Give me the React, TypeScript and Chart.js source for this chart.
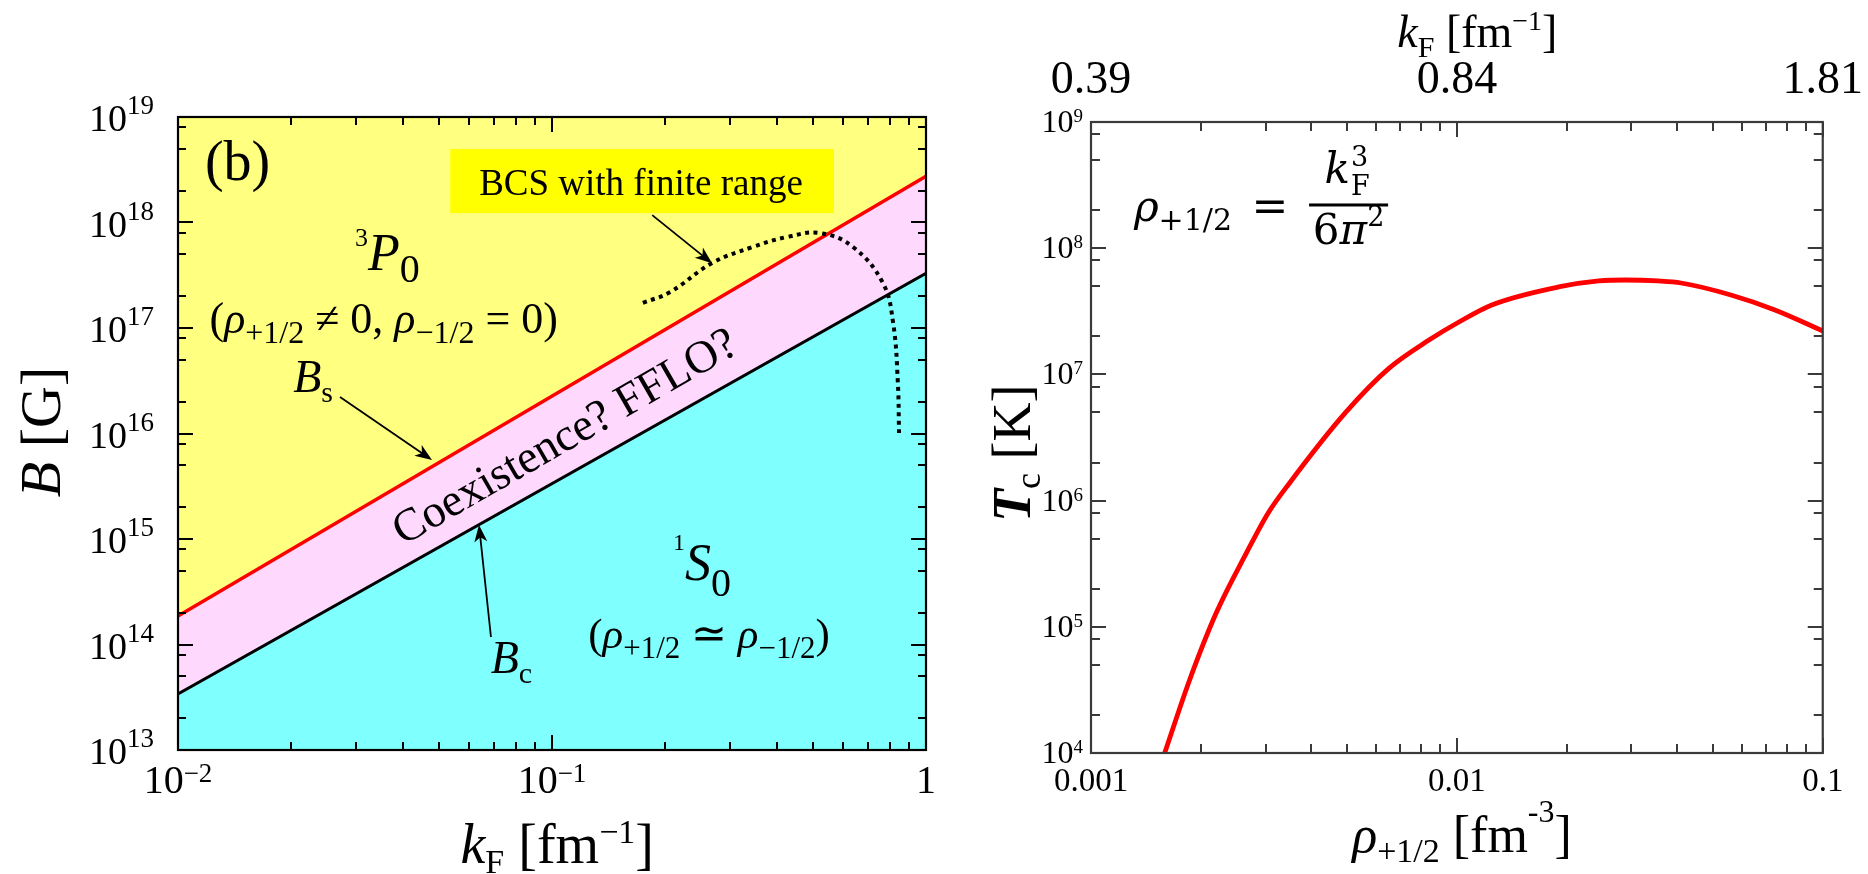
import React, { useEffect, useRef } from "react";
import { Chart, registerables } from "chart.js";

Chart.register(...registerables);

const FONT = '"Liberation Serif", "Times New Roman", serif';
const MATH = '"DejaVu Serif", serif';

// ---------------- Left panel (b): B [G] vs kF [fm^-1] ----------------
const kFEdges = [0.01, 1];
const BsValues = [1.86e14, 2.75e18];
const BcValues = [3.4e13, 3.3e17];
const bcsKF = [0.175, 0.207, 0.268, 0.344, 0.425, 0.521, 0.638, 0.767, 0.817, 0.841, 0.847];
const bcsB = [1.73e17, 2.19e17, 4.13e17, 5.86e17, 7.29e17, 7.94e17, 5.86e17, 2.67e17, 1.11e17, 3.01e16, 1.01e16];

const leftXTickValues = [0.01, 0.1, 1];
const leftXTickBase = ["10", "10", "1"];
const leftXTickExp = ["\u22122", "\u22121", ""];
const leftYTickValues = [1e13, 1e14, 1e15, 1e16, 1e17, 1e18, 1e19];
const leftYTickExp = ["13", "14", "15", "16", "17", "18", "19"];
const leftXMinor = [2, 3, 4, 5, 6, 7, 8, 9];
const leftYMinor = [2, 5, 8];

// ---------------- Right panel: Tc [K] vs rho_{+1/2} [fm^-3] ----------------
const rhoValues = [0.00159, 0.00186, 0.0022, 0.00266, 0.00305, 0.00349, 0.00498, 0.00653, 0.00839, 0.01013, 0.01246, 0.01897, 0.0244, 0.0289, 0.0355, 0.041, 0.0561, 0.074, 0.1];
const TcValues = [1e4, 3.79e4, 1.29e5, 3.85e5, 7.98e5, 1.38e6, 5.04e6, 1.12e7, 1.87e7, 2.6e7, 3.55e7, 4.93e7, 5.5e7, 5.6e7, 5.5e7, 5.3e7, 4.26e7, 3.24e7, 2.21e7];

const rightXTickValues = [0.001, 0.01, 0.1];
const rightXTickLabels = ["0.001", "0.01", "0.1"];
const topKFTickLabels = ["0.39", "0.84", "1.81"];
const rightYTickValues = [1e4, 1e5, 1e6, 1e7, 1e8, 1e9];
const rightYTickExp = ["4", "5", "6", "7", "8", "9"];
const rightXMinor = [2, 3, 4, 5, 6, 7, 8, 9];
const rightYMinor = [2, 5, 8];

const YELLOW = "rgb(255,255,128)";
const PINK = "rgb(255,217,253)";
const CYAN = "rgb(128,255,255)";

type Seg = { t: string; size: number; italic?: boolean; bold?: boolean; dy?: number; fam?: string };

function setFont(ctx: CanvasRenderingContext2D, s: Seg) {
  ctx.font = `${s.italic ? "italic " : ""}${s.bold ? "bold " : ""}${s.size}px ${s.fam || FONT}`;
}
function richWidth(ctx: CanvasRenderingContext2D, segs: Seg[]) {
  let w = 0;
  for (const s of segs) {
    setFont(ctx, s);
    w += ctx.measureText(s.t).width;
  }
  return w;
}
function drawRich(ctx: CanvasRenderingContext2D, x: number, y: number, segs: Seg[], align: "left" | "center" | "right" = "left") {
  const w = richWidth(ctx, segs);
  let cx = align === "center" ? x - w / 2 : align === "right" ? x - w : x;
  ctx.save();
  ctx.fillStyle = "#000";
  ctx.textAlign = "left";
  ctx.textBaseline = "alphabetic";
  for (const s of segs) {
    setFont(ctx, s);
    ctx.fillText(s.t, cx, y + (s.dy || 0));
    cx += ctx.measureText(s.t).width;
  }
  ctx.restore();
  return w;
}

function arrow(ctx: CanvasRenderingContext2D, x1: number, y1: number, x2: number, y2: number) {
  const a = Math.atan2(y2 - y1, x2 - x1);
  const head = 17, hw = 6.5;
  const c = Math.cos(a), s = Math.sin(a);
  ctx.save();
  ctx.strokeStyle = "#000";
  ctx.fillStyle = "#000";
  ctx.lineWidth = 1.8;
  ctx.beginPath();
  ctx.moveTo(x1, y1);
  ctx.lineTo(x2 - head * 0.6 * c, y2 - head * 0.6 * s);
  ctx.stroke();
  const bx = x2 - head * c, by = y2 - head * s;
  ctx.beginPath();
  ctx.moveTo(x2, y2);
  ctx.lineTo(bx + hw * s, by - hw * c);
  ctx.lineTo(x2 - head * 0.72 * c, y2 - head * 0.72 * s);
  ctx.lineTo(bx - hw * s, by + hw * c);
  ctx.closePath();
  ctx.fill();
  ctx.restore();
}

function logTickList(min: number, max: number, minors: number[]) {
  const out: { v: number; major: boolean }[] = [];
  const k0 = Math.floor(Math.log10(min) + 1e-9);
  const k1 = Math.ceil(Math.log10(max) - 1e-9);
  for (let k = k0; k <= k1; k++) {
    const b = Math.pow(10, k);
    out.push({ v: b, major: true });
    for (const m of minors) out.push({ v: m * b, major: false });
  }
  return out.filter((t) => t.v >= min * (1 - 1e-9) && t.v <= max * (1 + 1e-9));
}

function drawFrameTicks(chart: any, xs: any, ys: any, xMinor: number[], yMinor: number[], color: string, majorLen: number, minorLen: number) {
  const ctx: CanvasRenderingContext2D = chart.ctx;
  const a = chart.chartArea;
  ctx.save();
  ctx.strokeStyle = color;
  ctx.lineWidth = 2;
  ctx.beginPath();
  for (const t of logTickList(xs.min, xs.max, xMinor)) {
    const p = Math.round(xs.getPixelForValue(t.v));
    const L = t.major ? majorLen : minorLen;
    ctx.moveTo(p, a.bottom);
    ctx.lineTo(p, a.bottom - L);
    ctx.moveTo(p, a.top);
    ctx.lineTo(p, a.top + L);
  }
  for (const t of logTickList(ys.min, ys.max, yMinor)) {
    const p = Math.round(ys.getPixelForValue(t.v));
    const L = t.major ? majorLen : minorLen;
    ctx.moveTo(a.left, p);
    ctx.lineTo(a.left + L, p);
    ctx.moveTo(a.right, p);
    ctx.lineTo(a.right - L, p);
  }
  ctx.stroke();
  ctx.lineWidth = 2.2;
  ctx.strokeRect(a.left, a.top, a.right - a.left, a.bottom - a.top);
  ctx.restore();
}

const leftDecor = {
  id: "leftDecor",
  beforeDraw(chart: any) {
    const { ctx, chartArea: a } = chart;
    ctx.save();
    ctx.fillStyle = YELLOW;
    ctx.fillRect(a.left, a.top, a.right - a.left, a.bottom - a.top);
    ctx.restore();
  },
  afterDraw(chart: any) {
    const ctx: CanvasRenderingContext2D = chart.ctx;
    const a = chart.chartArea;
    const xs = chart.scales.x, ys = chart.scales.y;
    const W = a.right - a.left, H = a.bottom - a.top;
    const P = (fx: number, fy: number) => [a.left + fx * W, a.top + fy * H];

    drawFrameTicks(chart, xs, ys, leftXMinor, leftYMinor, "#000", 15, 8);

    // tick labels
    leftXTickValues.forEach((v, i) => {
      const x = xs.getPixelForValue(v);
      const segs: Seg[] = [{ t: leftXTickBase[i], size: 40 }];
      if (leftXTickExp[i]) segs.push({ t: leftXTickExp[i], size: 27, dy: -11 });
      drawRich(ctx, x, a.bottom + 43, segs, "center");
    });
    leftYTickValues.forEach((v, i) => {
      const y = ys.getPixelForValue(v);
      drawRich(ctx, a.left - 24, y + 14, [{ t: "10", size: 38 }, { t: leftYTickExp[i], size: 27, dy: -17 }], "right");
    });

    // axis titles
    const [tx, ty] = P(0.507, 1.1785);
    drawRich(ctx, tx, ty, [
      { t: "k", size: 56, italic: true },
      { t: "F", size: 34, dy: 10 },
      { t: " [fm", size: 56 },
      { t: "\u22121", size: 34, dy: -20 },
      { t: "]", size: 56 },
    ], "center");
    const [yx, yy] = P(-0.158, 0.4976);
    ctx.save();
    ctx.translate(yx, yy);
    ctx.rotate(-Math.PI / 2);
    drawRich(ctx, 0, 0, [{ t: "B", size: 58, italic: true }, { t: " [G]", size: 58 }], "center");
    ctx.restore();

    // (b)
    const [bx, by] = P(0.036, 0.0995);
    drawRich(ctx, bx, by, [{ t: "(b)", size: 56 }]);

    // BCS box
    const [r0x, r0y] = P(0.364, 0.0506);
    const [r1x, r1y] = P(0.877, 0.1517);
    ctx.save();
    ctx.fillStyle = "#ffff00";
    ctx.fillRect(r0x, r0y, r1x - r0x, r1y - r0y);
    ctx.restore();
    const [btx, bty] = P(0.619, 0.123);
    drawRich(ctx, btx, bty, [{ t: "BCS with finite range", size: 37 }], "center");
    {
      const [x1, y1] = P(0.634, 0.155);
      const [x2, y2] = P(0.714, 0.231);
      arrow(ctx, x1, y1, x2, y2);
    }

    // 3P0
    const [px, py] = P(0.2366, 0.2417);
    drawRich(ctx, px, py, [
      { t: "3", size: 26, dy: -24 },
      { t: "P", size: 52, italic: true },
      { t: "0", size: 40, dy: 12 },
    ]);
    const [c1x, c1y] = P(0.275, 0.341);
    drawRich(ctx, c1x, c1y, [
      { t: "(", size: 44 },
      { t: "\u03c1", size: 44, italic: true },
      { t: "+1/2", size: 32, dy: 10 },
      { t: " \u2260 0, ", size: 44 },
      { t: "\u03c1", size: 44, italic: true },
      { t: "\u22121/2", size: 32, dy: 10 },
      { t: " = 0)", size: 44 },
    ], "center");

    // Bs label + arrow
    const [bsx, bsy] = P(0.154, 0.434);
    drawRich(ctx, bsx, bsy, [{ t: "B", size: 46, italic: true }, { t: "s", size: 30, dy: 10 }]);
    {
      const [x1, y1] = P(0.2166, 0.4423);
      const [x2, y2] = P(0.3396, 0.5419);
      arrow(ctx, x1, y1, x2, y2);
    }

    // Coexistence text, rotated along the band
    const dxp = xs.getPixelForValue(kFEdges[1]) - xs.getPixelForValue(kFEdges[0]);
    const ang =
      (Math.atan2(ys.getPixelForValue(BsValues[1]) - ys.getPixelForValue(BsValues[0]), dxp) +
        Math.atan2(ys.getPixelForValue(BcValues[1]) - ys.getPixelForValue(BcValues[0]), dxp)) /
      2;
    const [cx, cy] = P(0.516, 0.502);
    ctx.save();
    ctx.translate(cx, cy);
    ctx.rotate(ang);
    drawRich(ctx, 0, 16, [{ t: "Coexistence? FFLO?", size: 46 }], "center");
    ctx.restore();

    // 1S0
    const [sx, sy] = P(0.6618, 0.7314);
    drawRich(ctx, sx, sy, [
      { t: "1", size: 24, dy: -30 },
      { t: "S", size: 52, italic: true },
      { t: "0", size: 40, dy: 16 },
    ]);
    const [c2x, c2y] = P(0.71, 0.839);
    drawRich(ctx, c2x, c2y, [
      { t: "(", size: 43 },
      { t: "\u03c1", size: 43, italic: true },
      { t: "+1/2", size: 31, dy: 10 },
      { t: " \u2243 ", size: 43 },
      { t: "\u03c1", size: 43, italic: true },
      { t: "\u22121/2", size: 31, dy: 10 },
      { t: ")", size: 43 },
    ], "center");

    // Bc label + arrow
    const [bcx, bcy] = P(0.418, 0.878);
    drawRich(ctx, bcx, bcy, [{ t: "B", size: 46, italic: true }, { t: "c", size: 30, dy: 10 }]);
    {
      const [x1, y1] = P(0.4184, 0.8215);
      const [x2, y2] = P(0.4024, 0.6445);
      arrow(ctx, x1, y1, x2, y2);
    }
  },
};

const rightDecor = {
  id: "rightDecor",
  afterDraw(chart: any) {
    const ctx: CanvasRenderingContext2D = chart.ctx;
    const a = chart.chartArea;
    const xs = chart.scales.x, ys = chart.scales.y;
    const W = a.right - a.left, H = a.bottom - a.top;
    const P = (fx: number, fy: number) => [a.left + fx * W, a.top + fy * H];

    drawFrameTicks(chart, xs, ys, rightXMinor, rightYMinor, "#3a3a3a", 15, 9);

    rightYTickValues.forEach((v, i) => {
      const y = ys.getPixelForValue(v);
      drawRich(ctx, a.left - 8, y + 10, [{ t: "10", size: 32 }, { t: rightYTickExp[i], size: 19, dy: -10 }], "right");
    });

    // top axis title
    const [tx, ty] = P(0.528, -0.119);
    drawRich(ctx, tx, ty, [
      { t: "k", size: 46, italic: true },
      { t: "F", size: 30, dy: 10 },
      { t: " [fm", size: 46 },
      { t: "\u22121", size: 28, dy: -17 },
      { t: "]", size: 46 },
    ], "center");

    // bottom axis title
    const [bx, by] = P(0.507, 1.157);
    drawRich(ctx, bx, by, [
      { t: "\u03c1", size: 52, italic: true },
      { t: "+1/2", size: 34, dy: 10 },
      { t: " [fm", size: 52 },
      { t: "-3", size: 32, dy: -30 },
      { t: "]", size: 52 },
    ], "center");

    // y title
    const [yx, yy] = P(-0.083, 0.525);
    ctx.save();
    ctx.translate(yx, yy);
    ctx.rotate(-Math.PI / 2);
    drawRich(ctx, 0, 0, [
      { t: "T", size: 54, italic: true, bold: true },
      { t: "c", size: 36, dy: 10 },
      { t: " [K]", size: 54 },
    ], "center");
    ctx.restore();

    // formula rho_{+1/2} = kF^3 / (6 pi^2)
    const [fx, fy] = P(0.0586, 0.1569);
    drawRich(ctx, fx, fy, [
      { t: "\u03c1", size: 42, italic: true, fam: MATH },
      { t: "+1/2", size: 30, dy: 9, fam: MATH },
    ]);
    const [ex] = P(0.2193, 0);
    drawRich(ctx, ex, fy, [{ t: "=", size: 44, fam: MATH }]);
    const [b0x, barY] = P(0.298, 0.1315);
    const [b1x] = P(0.406, 0.1315);
    ctx.save();
    ctx.fillStyle = "#000";
    ctx.fillRect(b0x, barY - 1.5, b1x - b0x, 3);
    ctx.restore();
    const [nx, ny] = P(0.319, 0.0967);
    const kw = drawRich(ctx, nx, ny, [{ t: "k", size: 42, italic: true, fam: MATH }]);
    drawRich(ctx, nx + kw + 1, ny - 17, [{ t: "3", size: 27, fam: MATH }]);
    drawRich(ctx, nx + kw + 1, ny + 12, [{ t: "F", size: 27, fam: MATH }]);
    const [dx, dy] = P(0.352, 0.193);
    drawRich(ctx, dx, dy, [
      { t: "6", size: 42, fam: MATH },
      { t: "\u03c0", size: 42, italic: true, fam: MATH },
      { t: "2", size: 27, dy: -18, fam: MATH },
    ], "center");
  },
};

export default function App() {
  const leftRef = useRef<HTMLCanvasElement>(null);
  const rightRef = useRef<HTMLCanvasElement>(null);

  useEffect(() => {
    const left = new Chart(leftRef.current as HTMLCanvasElement, {
      type: "line",
      data: {
        datasets: [
          {
            label: "BCS with finite range",
            data: bcsKF.map((x, i) => ({ x, y: bcsB[i] })),
            borderColor: "#000",
            borderWidth: 4,
            borderDash: [4, 4.5],
            pointRadius: 0,
            tension: 0.4,
            fill: false,
          },
          {
            label: "Bs",
            data: kFEdges.map((x, i) => ({ x, y: BsValues[i] })),
            borderColor: "#ff0000",
            borderWidth: 3.5,
            pointRadius: 0,
            fill: { target: "+1" },
            backgroundColor: PINK,
          },
          {
            label: "Bc",
            data: kFEdges.map((x, i) => ({ x, y: BcValues[i] })),
            borderColor: "#000",
            borderWidth: 3,
            pointRadius: 0,
            fill: "start",
            backgroundColor: CYAN,
          },
        ],
      } as any,
      options: {
        responsive: false,
        animation: false,
        layout: { padding: { left: 0, right: 24, top: 117, bottom: 0 } },
        scales: {
          x: {
            type: "logarithmic",
            position: "bottom",
            min: 0.01,
            max: 1,
            grid: { display: false },
            border: { display: false },
            ticks: { display: false },
            afterFit: (s: any) => {
              s.height = 124;
            },
          },
          y: {
            type: "logarithmic",
            min: 1e13,
            max: 1e19,
            grid: { display: false },
            border: { display: false },
            ticks: { display: false },
            afterFit: (s: any) => {
              s.width = 178;
            },
          },
        },
        plugins: {
          legend: { display: false },
          tooltip: { enabled: false },
          filler: { drawTime: "beforeDatasetsDraw" },
        },
      } as any,
      plugins: [leftDecor],
    });

    const right = new Chart(rightRef.current as HTMLCanvasElement, {
      type: "line",
      data: {
        datasets: [
          {
            label: "Tc",
            data: rhoValues.map((x, i) => ({ x, y: TcValues[i] })),
            borderColor: "#ff0000",
            borderWidth: 4.8,
            pointRadius: 0,
            cubicInterpolationMode: "monotone",
            fill: false,
            xAxisID: "x",
            yAxisID: "y",
          },
        ],
      } as any,
      options: {
        responsive: false,
        animation: false,
        layout: { padding: { left: 0, right: 43, top: 0, bottom: 0 } },
        scales: {
          x: {
            type: "logarithmic",
            position: "bottom",
            min: 0.001,
            max: 0.1,
            grid: { display: false },
            border: { display: false },
            afterBuildTicks: (s: any) => {
              s.ticks = rightXTickValues.map((v) => ({ value: v }));
            },
            ticks: {
              autoSkip: false,
              maxRotation: 0,
              padding: 2,
              color: "#000",
              font: { family: FONT, size: 33 },
              callback: (_v: any, i: number) => rightXTickLabels[i],
            },
            afterFit: (s: any) => {
              s.height = 121;
            },
          },
          xTop: {
            type: "logarithmic",
            position: "top",
            min: 0.001,
            max: 0.1,
            grid: { display: false },
            border: { display: false },
            afterBuildTicks: (s: any) => {
              s.ticks = rightXTickValues.map((v) => ({ value: v }));
            },
            ticks: {
              autoSkip: false,
              maxRotation: 0,
              padding: 5,
              color: "#000",
              font: { family: FONT, size: 46 },
              callback: (_v: any, i: number) => topKFTickLabels[i],
            },
            afterFit: (s: any) => {
              s.height = 122;
            },
          },
          y: {
            type: "logarithmic",
            min: 1e4,
            max: 1e9,
            grid: { display: false },
            border: { display: false },
            ticks: { display: false },
            afterFit: (s: any) => {
              s.width = 141;
            },
          },
        },
        plugins: {
          legend: { display: false },
          tooltip: { enabled: false },
        },
      } as any,
      plugins: [rightDecor],
    });

    return () => {
      left.destroy();
      right.destroy();
    };
  }, []);

  return (
    <div style={{ position: "absolute", left: 0, top: 0, width: 1868, height: 874, background: "#fff", overflow: "hidden" }}>
      <canvas ref={leftRef} width={950} height={874} style={{ position: "absolute", left: 0, top: 0, width: 950, height: 874 }} />
      <canvas ref={rightRef} width={918} height={874} style={{ position: "absolute", left: 950, top: 0, width: 918, height: 874 }} />
    </div>
  );
}
